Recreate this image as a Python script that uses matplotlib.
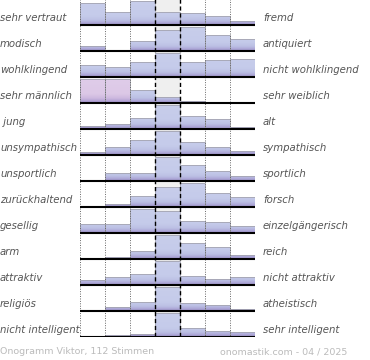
import matplotlib
matplotlib.use("Agg")
import matplotlib.pyplot as plt
import numpy as np
from matplotlib.colors import LinearSegmentedColormap
from matplotlib.patches import Rectangle

left_labels = ["sehr vertraut", "modisch", "wohlklingend", "sehr männlich", " jung",
               "unsympathisch", "unsportlich", "zurückhaltend", "gesellig", "arm",
               "attraktiv", "religiös", "nicht intelligent"]
right_labels = ["fremd", "antiquiert", "nicht wohlklingend", "sehr weiblich", "alt",
                "sympathisch", "sportlich", "forsch", "einzelgängerisch", "reich",
                "nicht attraktiv", "atheistisch", "sehr intelligent"]

# relative vote share per scale step (7 steps)
votes = [
    [22, 13, 24, 13, 12, 9, 4],
    [5, 0, 10, 21, 24, 16, 12],
    [11.6, 9.6, 15, 24, 15, 17, 18],
    [24, 24, 13.4, 6, 2.4, 0, 0],
    [3.3, 5, 10.7, 24, 13.3, 10.3, 2],
    [3, 7.7, 15, 24, 12.7, 7.7, 3.7],
    [0, 7.7, 7.7, 24, 16, 10.3, 5],
    [1, 3, 11.3, 20.3, 24, 14, 10.3],
    [9, 9, 24, 22.3, 11.7, 10.7, 6.7],
    [0, 2.3, 7.7, 24, 16, 11.7, 3.7],
    [5, 8, 11, 24, 8.7, 6, 7.7],
    [0, 4, 9, 24, 8.3, 6.3, 2],
    [0, 2, 3.3, 24, 8.7, 6.3, 4.7],
]
# (row, step) cells drawn in the pink tone
pink_cells = [(3, 0), (3, 1)]

footer_left = "Onogramm Viktor, 112 Stimmen"
footer_right = "onomastik.com - 04 / 2025"

n_rows = len(left_labels)
n_steps = 7
max_h = 0.92

fig = plt.figure(figsize=(3.7, 3.6), dpi=100)
ax = fig.add_axes([80 / 370, (360 - 337) / 360, 175 / 370, 338 / 360])
ax.set_xlim(0, n_steps)
ax.set_ylim(n_rows, 0)
ax.axis("off")

blue = LinearSegmentedColormap.from_list(
    "blue", [(0, "#a092cc"), (0.18, "#bcc0e4"), (0.35, "#c5cbea"), (1, "#c8ceeb")])
pink = LinearSegmentedColormap.from_list(
    "pink", [(0, "#a092cc"), (0.18, "#cdb8df"), (0.35, "#dcc8e6"), (1, "#e0cdea")])
grad = np.linspace(1, 0, 100).reshape(-1, 1)

for i, row in enumerate(votes):
    base = i + 1
    top = max(row)
    # light grey behind the middle step
    ax.add_patch(Rectangle((3, i), 1, 1, facecolor="#efefef", edgecolor="none", zorder=0))
    for j, v in enumerate(row):
        h = v / top * max_h
        if h <= 0:
            continue
        rect = Rectangle((j, base - h), 1, h, facecolor="none", edgecolor="none", zorder=2)
        ax.add_patch(rect)
        cmap = pink if (i, j) in pink_cells else blue
        im = ax.imshow(grad, cmap=cmap, aspect="auto", extent=[j, j + 1, base, i],
                       vmin=0, vmax=1, zorder=2)
        im.set_clip_path(rect)
        ax.add_patch(Rectangle((j, base - h), 1, h, facecolor="none",
                               edgecolor="#a4a4b0", lw=0.6, zorder=3))
    ax.plot([0, n_steps], [base, base], color="black", lw=1.5, zorder=5,
            solid_capstyle="butt")
    ax.text(-3.2, i + 0.74, left_labels[i], fontsize=7.3, style="italic", color="#555555",
            ha="left", va="center", clip_on=False)
    ax.text(7.32, i + 0.74, right_labels[i], fontsize=7.3, style="italic", color="#555555",
            ha="left", va="center", clip_on=False)

for x in [0, 1, 2, 5, 6, 7]:
    ax.plot([x, x], [-0.1, n_rows], color="#666666", lw=0.7, ls=(0, (1, 1.5)), zorder=4)
for x in [3, 4]:
    ax.plot([x, x], [-0.1, n_rows], color="black", lw=1.0, ls=(0, (3, 2)), zorder=4)

fig.text(0 / 370, 1 - 352 / 360, footer_left, fontsize=6.8, color="#bbbbbb",
         ha="left", va="center")
fig.text(347 / 370, 1 - 352 / 360, footer_right, fontsize=6.8, color="#bbbbbb",
         ha="right", va="center")

fig.savefig("out.png", dpi=100)
